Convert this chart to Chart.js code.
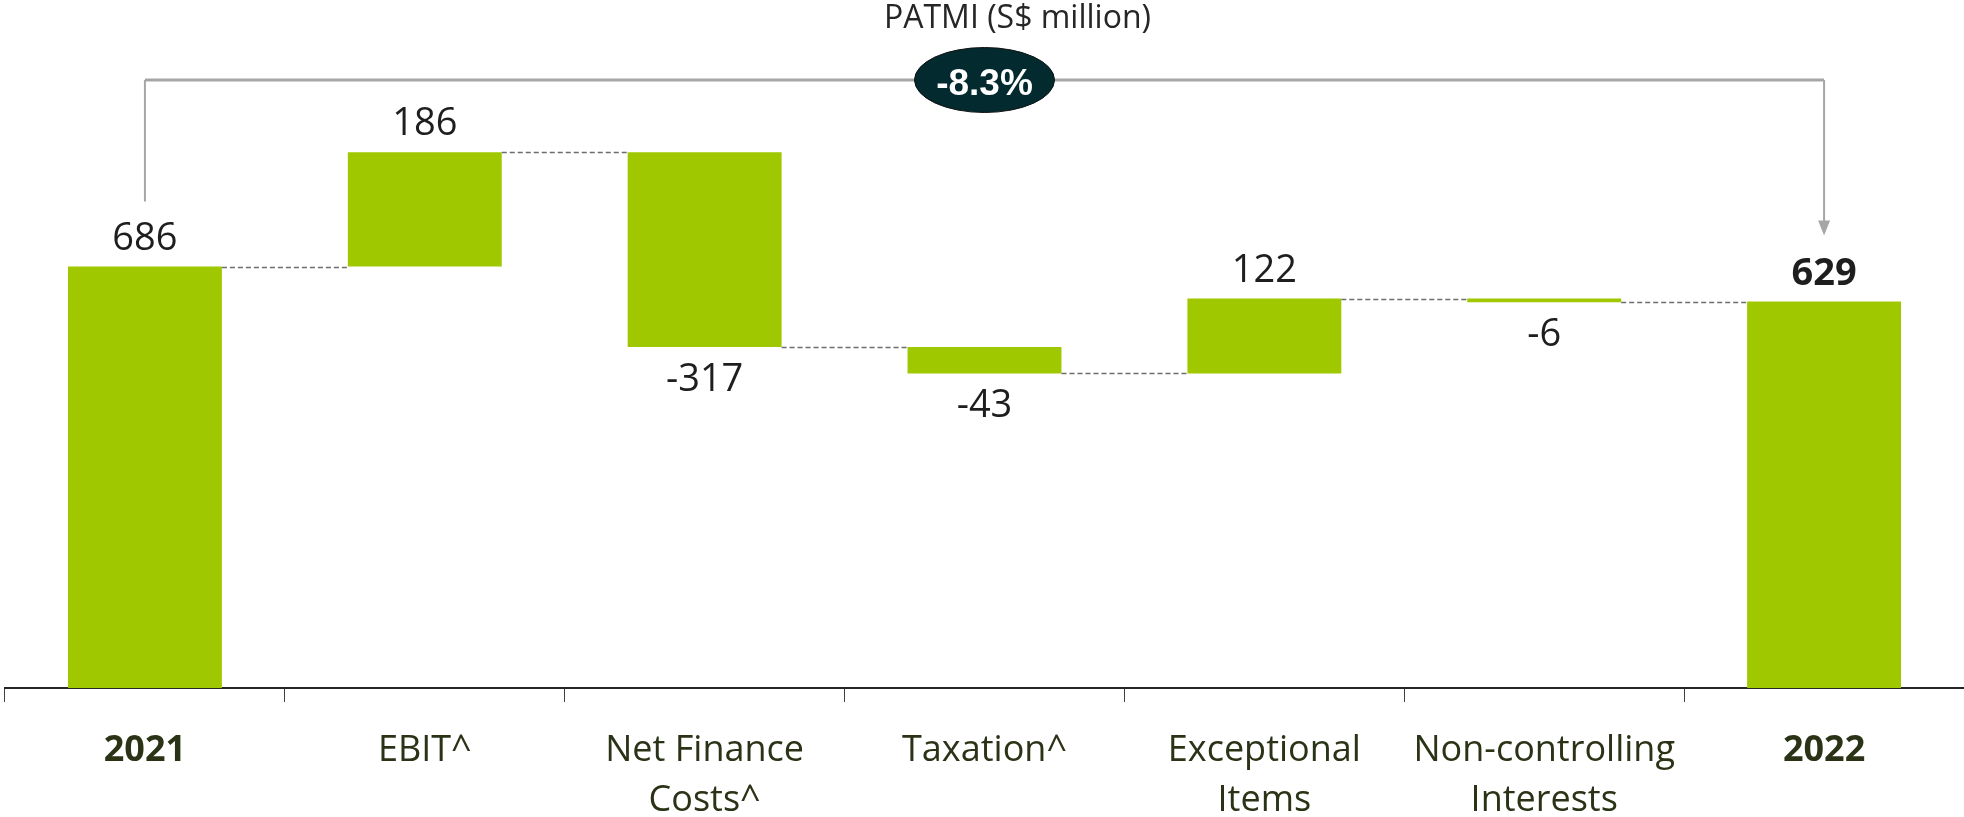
<!DOCTYPE html>
<html>
<head>
<meta charset="utf-8">
<script src="https://cdn.jsdelivr.net/npm/chart.js@4.4.1/dist/chart.umd.min.js"></script>
<style>
  html, body { margin: 0; padding: 0; background: #ffffff; }
  #wrap { position: relative; width: 1964px; height: 817px; }
</style>
</head>
<body>
<div id="wrap"><canvas id="c" width="1964" height="817"></canvas></div>
<script>
// ---- Data ----
const categories = [['2021'], ['EBIT^'], ['Net Finance', 'Costs^'], ['Taxation^'], ['Exceptional', 'Items'], ['Non-controlling', 'Interests'], ['2022']];
const values = [686, 186, -317, -43, 122, -6, 629];
const isTotal = [true, false, false, false, false, false, true];
const valueLabels = ['686', '186', '-317', '-43', '122', '-6', '629'];
const chartTitle = 'PATMI (S$ million)';
const changeLabel = '-8.3%';

// floating ranges built from the values
const ranges = [];
let running = 0;
values.forEach((v, i) => {
  if (isTotal[i]) { ranges.push([0, v]); running = v; }
  else { ranges.push([running, running + v]); running += v; }
});

const BAR = '#a0c800';
const FONT = "'Open Sans', 'Noto Sans', sans-serif";

const overlay = {
  id: 'overlay',
  afterDatasetsDraw(chart) {
    const ctx = chart.ctx;
    const meta = chart.getDatasetMeta(0);
    const y = chart.scales.y;
    ctx.save();

    // connectors
    ctx.strokeStyle = '#6e6e6e';
    ctx.lineWidth = 1.3;
    ctx.setLineDash([5, 3]);
    for (let i = 0; i < ranges.length - 1; i++) {
      const a = meta.data[i], b = meta.data[i + 1];
      const lvl = ranges[i][1];
      const py = Math.round(y.getPixelForValue(lvl)) + 0.5;
      ctx.beginPath();
      ctx.moveTo(a.x + a.width / 2, py);
      ctx.lineTo(b.x - b.width / 2, py);
      ctx.stroke();
    }
    ctx.setLineDash([]);

    // value labels
    ctx.textAlign = 'center';
    ctx.textBaseline = 'alphabetic';
    for (let i = 0; i < ranges.length; i++) {
      const el = meta.data[i];
      const top = y.getPixelForValue(Math.max(ranges[i][0], ranges[i][1]));
      const bot = y.getPixelForValue(Math.min(ranges[i][0], ranges[i][1]));
      ctx.fillStyle = '#1e1e1e';
      ctx.font = (isTotal[i] && i > 0 ? 'bold ' : '') + '38px ' + FONT;
      if (values[i] >= 0) {
        ctx.fillText(valueLabels[i], el.x, top - 17);
      } else {
        ctx.fillText(valueLabels[i], el.x, bot + 44);
      }
    }

    // bracket
    const x0 = meta.data[0].x, x1 = meta.data[ranges.length - 1].x;
    const by = 80;
    const y0 = y.getPixelForValue(values[0]) - 65;
    const y1 = y.getPixelForValue(values[values.length - 1]) - 66;
    ctx.strokeStyle = '#a6a6a6';
    ctx.lineWidth = 3;
    ctx.beginPath();
    ctx.moveTo(x0, by); ctx.lineTo(x1, by);
    ctx.stroke();
    ctx.lineWidth = 2;
    ctx.beginPath();
    ctx.moveTo(x0, by); ctx.lineTo(x0, y0);
    ctx.moveTo(x1, by); ctx.lineTo(x1, y1 - 14);
    ctx.stroke();
    ctx.fillStyle = '#a6a6a6';
    ctx.beginPath();
    ctx.moveTo(x1 - 6, y1 - 15);
    ctx.lineTo(x1 + 6, y1 - 15);
    ctx.lineTo(x1, y1);
    ctx.closePath();
    ctx.fill();

    // ellipse
    const cx = (x0 + x1) / 2;
    ctx.beginPath();
    ctx.ellipse(cx, by, 70, 32.5, 0, 0, Math.PI * 2);
    ctx.fillStyle = '#032a2e';
    ctx.fill();
    ctx.lineWidth = 1;
    ctx.strokeStyle = '#111';
    ctx.stroke();
    ctx.fillStyle = '#ffffff';
    ctx.font = "bold 37px 'Liberation Sans', Arial, sans-serif";
    ctx.textBaseline = 'alphabetic';
    ctx.fillText(changeLabel, cx, 95);

    // title
    ctx.fillStyle = '#262626';
    ctx.font = '32px ' + FONT;
    ctx.fillText(chartTitle, cx + 33, 28);

    ctx.restore();
  }
};

new Chart(document.getElementById('c'), {
  type: 'bar',
  data: {
    labels: categories,
    datasets: [{
      data: ranges,
      backgroundColor: BAR,
      borderWidth: 0,
      barPercentage: 0.55,
      categoryPercentage: 1.0
    }]
  },
  options: {
    responsive: false,
    animation: false,
    layout: { padding: { left: 5, right: 0, top: 0, bottom: 0 } },
    plugins: { legend: { display: false }, tooltip: { enabled: false }, title: { display: false } },
    scales: {
      y: { display: false, min: 0, max: 1120 },
      x: {
        offset: true,
        grid: { display: true, drawOnChartArea: false, drawTicks: true, tickLength: 14, color: '#404040', lineWidth: 1, offset: true },
        border: { display: true, color: '#262626', width: 2 },
        ticks: {
          autoSkip: false, maxRotation: 0, minRotation: 0, padding: 24,
          color: '#2b3316',
          font: (c) => ({ family: FONT, size: 36, weight: isTotal[c.index] ? 'bold' : 'normal', lineHeight: 1.38 })
        },
        afterFit(scale) { scale.height = 129; }
      }
    }
  },
  plugins: [overlay]
});
</script>
</body>
</html>
